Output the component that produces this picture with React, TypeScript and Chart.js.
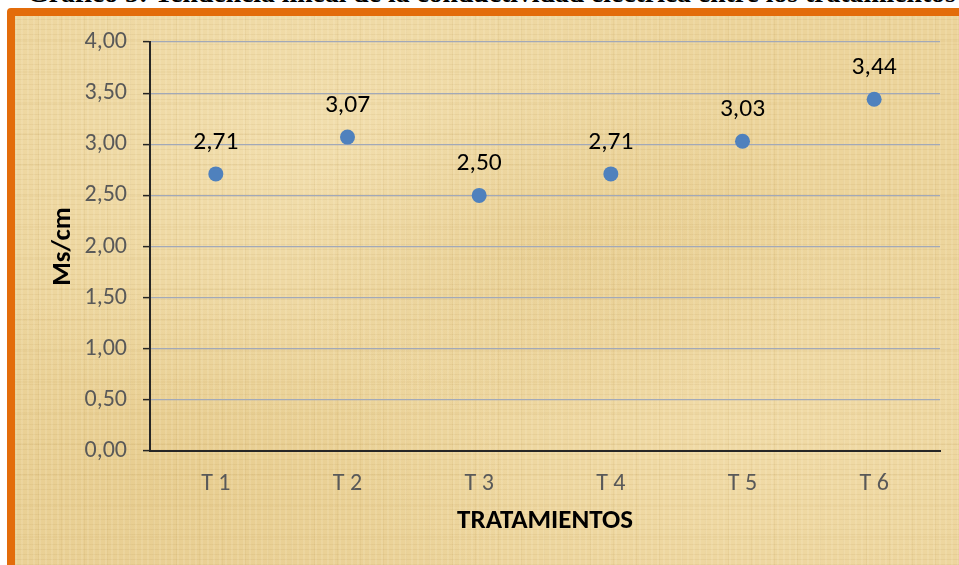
import React, { useEffect, useRef } from "react";
import { Chart, registerables } from "chart.js";

Chart.register(...registerables);

const categories = ["T 1", "T 2", "T 3", "T 4", "T 5", "T 6"];
const conductividad = [2.71, 3.07, 2.5, 2.71, 3.03, 3.44];
const yMin = 0;
const yMax = 4;
const yStep = 0.5;
const titleText = "Gráfico 5: Tendencia lineal de la conductividad eléctrica entre los tratamientos";
const xTitle = "TRATAMIENTOS";
const yTitle = "Ms/cm";

const FONT = "Carlito, Calibri, Lato, sans-serif";
const fmt = (v: number) => v.toFixed(2).replace(".", ",");

const dataLabelPlugin = {
  id: "dataLabels",
  afterDatasetsDraw(chart: any) {
    const ctx = chart.ctx;
    chart.data.datasets.forEach((ds: any, di: number) => {
      const meta = chart.getDatasetMeta(di);
      meta.data.forEach((pt: any, i: number) => {
        ctx.save();
        ctx.font = `25.5px ${FONT}`;
        ctx.fillStyle = "#000000";
        ctx.textAlign = "center";
        ctx.textBaseline = "alphabetic";
        ctx.fillText(fmt(ds.data[i]), pt.x, pt.y - 25);
        ctx.restore();
      });
    });
  },
};

export default function App() {
  const canvasRef = useRef<HTMLCanvasElement | null>(null);

  useEffect(() => {
    const canvas = canvasRef.current;
    if (!canvas) return;
    const chart = new Chart(canvas, {
      type: "line",
      data: {
        labels: categories,
        datasets: [
          {
            data: conductividad,
            showLine: false,
            pointRadius: 7.5,
            pointHoverRadius: 7.5,
            pointBackgroundColor: "#4f81bd",
            pointBorderColor: "#4f81bd",
            pointBorderWidth: 0,
            backgroundColor: "#4f81bd",
            borderColor: "#4f81bd",
          },
        ],
      },
      options: {
        animation: false,
        responsive: false,
        maintainAspectRatio: false,
        layout: { padding: { left: 0, right: 19, top: 42, bottom: 0 } },
        plugins: {
          legend: { display: false },
          tooltip: { enabled: false },
          title: { display: false },
        },
        scales: {
          x: {
            type: "category",
            offset: true,
            grid: { display: false },
            border: { display: true, color: "#262626", width: 2 },
            ticks: {
              color: "#595959",
              font: { family: FONT, size: 24 },
              padding: 11,
              maxRotation: 0,
            },
            title: {
              display: true,
              text: xTitle,
              color: "#000000",
              font: { family: FONT, size: 27, weight: "bold" },
              padding: { top: 0, bottom: 28 },
            },
            afterFit: (scale: any) => {
              scale.height = 114;
            },
          },
          y: {
            min: yMin,
            max: yMax,
            grid: {
              color: (c: any) => (c.tick && c.tick.value === 0 ? "rgba(0,0,0,0)" : "#a2a9b8"),
              lineWidth: 1.25,
              tickLength: 7,
              tickColor: "#262626",
              tickWidth: 1.5,
            },
            border: { display: true, color: "#262626", width: 2 },
            ticks: {
              stepSize: yStep,
              color: "#595959",
              font: { family: FONT, size: 24 },
              padding: 16,
              callback: (v: any) => fmt(Number(v)),
            },
            title: {
              display: true,
              text: yTitle,
              color: "#000000",
              font: { family: FONT, size: 27, weight: "bold" },
              padding: { top: 47, bottom: 0 },
            },
            afterFit: (scale: any) => {
              scale.width = 150;
            },
          },
        },
      },
      plugins: [dataLabelPlugin],
    });
    return () => chart.destroy();
  }, []);

  const texture = [
    "repeating-linear-gradient(90deg, rgba(255,250,230,0.12) 0px, rgba(255,250,230,0.12) 2px, rgba(0,0,0,0) 2px, rgba(0,0,0,0) 6px)",
    "repeating-linear-gradient(0deg, rgba(150,110,40,0.08) 0px, rgba(150,110,40,0.08) 1px, rgba(0,0,0,0) 1px, rgba(0,0,0,0) 5px)",
    "repeating-linear-gradient(90deg, rgba(170,130,50,0.08) 0px, rgba(170,130,50,0.08) 1px, rgba(0,0,0,0) 1px, rgba(0,0,0,0) 23px)",
    "repeating-linear-gradient(0deg, rgba(170,130,50,0.06) 0px, rgba(170,130,50,0.06) 2px, rgba(0,0,0,0) 2px, rgba(0,0,0,0) 31px)",
    "radial-gradient(ellipse at 30% 20%, rgba(255,245,215,0.30), rgba(0,0,0,0) 45%)",
    "radial-gradient(ellipse at 75% 70%, rgba(255,240,205,0.25), rgba(0,0,0,0) 40%)",
    "radial-gradient(ellipse at 55% 40%, rgba(205,165,80,0.20), rgba(0,0,0,0) 35%)",
    "radial-gradient(ellipse at 15% 80%, rgba(205,165,80,0.15), rgba(0,0,0,0) 30%)",
  ].join(", ");

  return (
    <div
      style={{
        position: "fixed",
        left: 0,
        top: 0,
        width: 959,
        height: 565,
        overflow: "hidden",
        background: "#ffffff",
      }}
    >
      <div
        style={{
          position: "absolute",
          left: 0,
          width: 983,
          top: -21.5,
          textAlign: "center",
          whiteSpace: "nowrap",
          fontFamily: "'Liberation Serif', 'Times New Roman', serif",
          fontWeight: "bold",
          fontSize: 27.7,
          lineHeight: "28px",
          color: "#000000",
        }}
      >
        {titleText}
      </div>
      <div
        style={{
          position: "absolute",
          left: 7,
          top: 8,
          width: 1000,
          height: 600,
          boxSizing: "border-box",
          border: "8px solid #e36c0a",
          borderRadius: 4,
          backgroundColor: "#ecd49b",
          backgroundImage: texture,
        }}
      />
      <canvas
        ref={canvasRef}
        width={959}
        height={565}
        style={{ position: "absolute", left: 0, top: 0, width: 959, height: 565 }}
      />
    </div>
  );
}
